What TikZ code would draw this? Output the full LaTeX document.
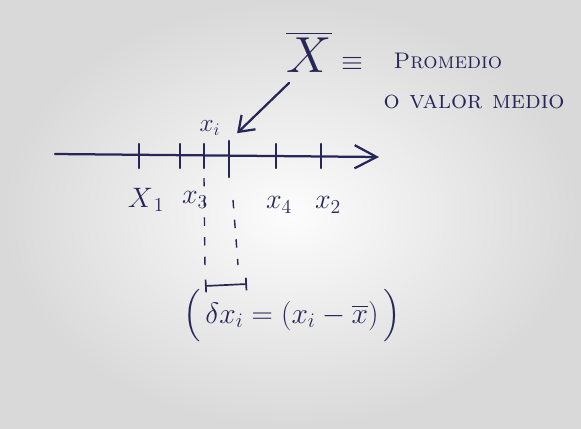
\RequirePackage{fix-cm}
\documentclass[tikz,border=0pt]{standalone}
\usepackage{amsmath}
\usepackage{fontspec}
\usetikzlibrary{arrows.meta,positioning}
\definecolor{ink}{RGB}{38,38,88}
\tikzset{
  ink line/.style={draw=ink, line width=1.6pt, line cap=round},
  tick mark/.style={ink line},
  guide line/.style={draw=ink, line width=1pt, dash pattern=on 6pt off 8pt},
  label text/.style={text=ink, inner sep=1pt, font=\fontsize{20}{22}\selectfont},
  note text/.style={text=ink, inner sep=1pt, font=\fontsize{16}{18}\selectfont\scshape}
}

\begin{document}
\begin{tikzpicture}[x=0.025cm, y=-0.025cm]

% fondo (papel)
\useasboundingbox (0,0) rectangle (581,429);
\shade[inner color=gray!2, outer color=gray!30] (0,0) rectangle (581,429);

% eje con marcas
\coordinate (axis start) at (55,154);
\coordinate (axis end) at (379,157);
\draw[ink line, -{Straight Barb[length=5.5mm, width=5.8mm]}] (axis start) -- (axis end);

\foreach \n/\x in {t1/139, t5/180, t3/204, t4/276, t2/321} {
  \coordinate (\n top) at (\x,144);
  \coordinate (\n bot) at (\x,168);
  \draw[tick mark] (\n top) -- (\n bot);
}
\coordinate (mean top) at (229,141);
\coordinate (mean bot) at (229,177);
\draw[tick mark, line width=2pt] (mean top) -- (mean bot);

% etiquetas del eje
\node[label text] (x1) at (146,200) {$X_{\,1}$};
\node[label text] (x3) at (195,200) {$x_{3}$};
\node[label text] (x4) at (279,205) {$x_{4}$};
\node[label text] (x2) at (328,205) {$x_{2}$};
\node[label text, font=\fontsize{18}{20}\selectfont] (xi) at (210,128) {$x_{i}$};

% media y definicion
\node[text=ink, inner sep=1pt, font=\fontsize{36}{40}\selectfont] (xbar) at (309,52) {$\overline{X}$};
\node[label text] (equiv) at (352,64) {$\equiv$};
\node[note text, anchor=west] (promedio) at (392,61) {Promedio};
\node[note text, anchor=west, font=\fontsize{18}{20}\selectfont\scshape] (valor) at (382,102) {o valor medio};

\coordinate (arrow start) at (289,83);
\draw[ink line, shorten >=8pt, -{Straight Barb[length=3.5mm, width=5mm]}]
  (arrow start) -- (mean top);

% lineas de guia y distancia
\coordinate (g1 top) at (204,178);
\coordinate (g1 bot) at (205,268);
\coordinate (g2 top) at (233,200);
\coordinate (g2 bot) at (238,265);
\draw[guide line] (g1 top) -- (g1 bot);
\draw[guide line] (g2 top) -- (g2 bot);

\coordinate (d left) at (205,286);
\coordinate (d right) at (247,284);
\draw[draw=ink, line width=1.2pt, {Bar[width=9pt]}-{Bar[width=9pt]}] (d left) -- (d right);

\node[label text, font=\fontsize{21}{24}\selectfont] (formula) at (292,316)
  {$\Big(\,\delta x_i = (x_i - \overline{x})\,\Big)$};

\end{tikzpicture}
\end{document}
